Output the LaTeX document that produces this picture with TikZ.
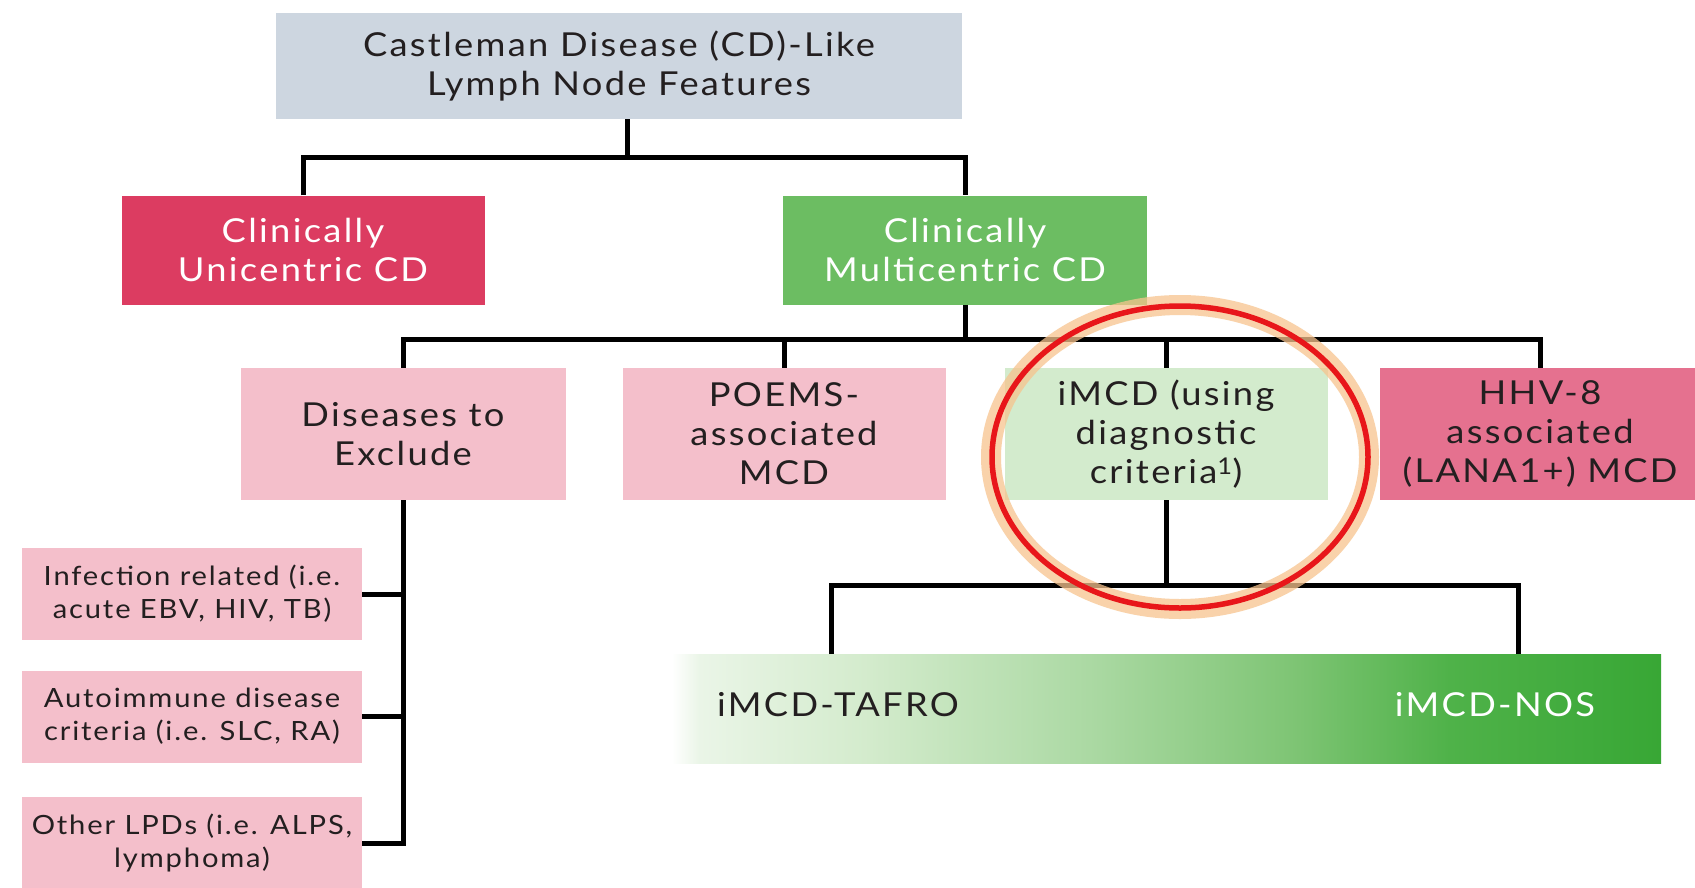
\documentclass[tikz,border=0pt]{standalone}
\usepackage{fontspec}
\setmainfont{Lato}[FakeStretch=1.1, LetterSpace=7]
\definecolor{ink}{HTML}{231F20}
\definecolor{topgrey}{HTML}{CDD6E0}
\definecolor{unired}{HTML}{DC3C61}
\definecolor{multigreen}{HTML}{6CBD62}
\definecolor{softpink}{HTML}{F4BFCB}
\definecolor{softgreen}{HTML}{D3EBCD}
\definecolor{hhvpink}{HTML}{E5718F}
\definecolor{ringred}{HTML}{E8161A}
\definecolor{ringhalo}{HTML}{F7C48E}
\definecolor{barA}{HTML}{EAF5E7}
\definecolor{barB}{HTML}{D3EBCC}
\definecolor{barC}{HTML}{A9D8A1}
\definecolor{barD}{HTML}{7DC473}
\definecolor{barE}{HTML}{4FB249}
\definecolor{barF}{HTML}{38A735}
\pgfdeclarehorizontalshading{imcdbar}{100bp}{%
  color(0bp)=(white); color(25bp)=(white); color(26.4bp)=(barA);
  color(35bp)=(barB); color(46.6bp)=(barC); color(56.7bp)=(barD);
  color(64.3bp)=(barE); color(75bp)=(barF); color(100bp)=(barF)}
\newcommand\bigtxt{\fontsize{33}{39}\selectfont}
\newcommand\smalltxt{\fontsize{26.5}{33}\selectfont}
\begin{document}
\begin{tikzpicture}[x=1pt,y=-1pt,
  box/.style={rectangle, inner sep=0pt, align=center, text=ink, font=\bigtxt},
  subbox/.style={box, fill=softpink, font=\smalltxt, minimum width=340pt, minimum height=92pt},
  rowbox/.style={box, minimum width=323pt, minimum height=132pt},
  link/.style={draw=black, line width=5pt},
  barlabel/.style={inner sep=0pt, font=\bigtxt}]
\useasboundingbox (0,0) rectangle (1695,887);
\fill[white] (0,0) rectangle (1695,887);

% top level
\node[box, fill=topgrey, minimum width=686pt, minimum height=106pt] (top) at (619,66)
  {Castleman Disease (CD)-Like\\Lymph Node Features};

% clinical split
\node[box, fill=unired, text=white, minimum width=363pt, minimum height=109pt] (uni) at (303,250)
  {Clinically\\Unicentric CD};
\node[box, fill=multigreen, text=white, minimum width=364pt, minimum height=109pt] (multi) at (965,250)
  {Clinically\\Multicentric CD};

% multicentric subtypes
\node[rowbox, fill=softpink, minimum width=325pt] (dis) at (403,434) {Diseases to\\Exclude};
\node[rowbox, fill=softpink] (poems) at (784,434) {POEMS-\\associated\\MCD};
\node[rowbox, fill=softgreen] (imcd) at (1166,434) {iMCD (using\\diagnostic\\criteria\textsuperscript{1})};
\node[rowbox, fill=hhvpink, minimum width=320pt] (hhv) at (1540,434) {HHV-8\\associated\\(LANA1+) MCD};

% diseases to exclude
\node[subbox] (inf) at (192,594) {Infection related (i.e.\\acute EBV, HIV, TB)};
\node[subbox] (auto) at (192,716.5) {Autoimmune disease\\criteria (i.e. SLC, RA)};
\node[subbox] (lpd) at (192,843) {Other LPDs (i.e. ALPS,\\lymphoma)};

% iMCD spectrum bar
\node[inner sep=0pt, shading=imcdbar, minimum width=989pt, minimum height=109pt] (bar) at (1166.5,708.5) {};
\node[barlabel, text=ink] (tafro) at (838,705) {iMCD-TAFRO};
\node[barlabel, text=white] (nos) at (1495,705) {iMCD-NOS};

% junction points
\coordinate (j0) at (627,157);
\coordinate (j1) at (965,339);
\coordinate (j3) at (1166,585);
\coordinate (ta) at (831,654);
\coordinate (no) at (1518,654);

% connectors
\draw[link] (top.south -| j0) -- (j0);
\draw[link] (uni.north) |- (j0) -| (multi.north);
\draw[link] (multi.south) -- (j1);
\draw[link] (dis.north) |- (j1) -| (hhv.north);
\draw[link] (poems.north) -- (poems.north |- j1);
\draw[link] (imcd.north) -- (imcd.north |- j1);
\draw[link] (dis.south) |- (lpd.east);
\draw[link] (inf.east) -- (inf.east -| dis.south);
\draw[link] (auto.east) -- (auto.east -| dis.south);
\draw[link] (imcd.south) -- (j3);
\draw[link] (ta) |- (j3) -| (no);

% highlight ring around iMCD
\draw[ringhalo, line width=20pt, opacity=0.75] (1180,457) ellipse [x radius=189, y radius=152];
\draw[ringred, line width=5.5pt] (1180,457) ellipse [x radius=188, y radius=151];
\end{tikzpicture}
\end{document}
